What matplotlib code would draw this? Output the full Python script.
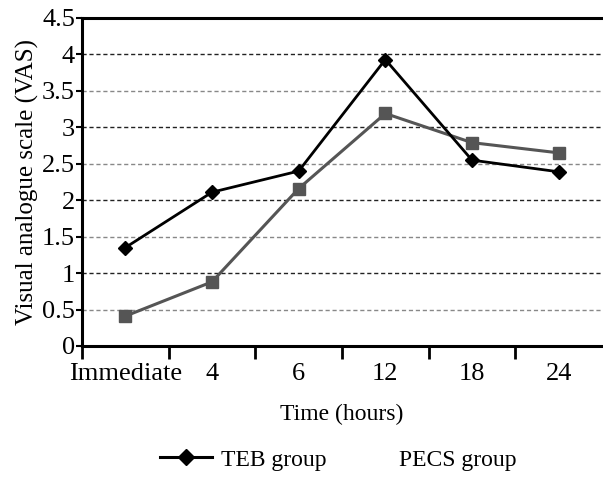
import matplotlib
matplotlib.use("Agg")
import matplotlib.pyplot as plt
from matplotlib.lines import Line2D

plt.rcParams['font.family'] = ['Liberation Serif', 'DejaVu Serif']

categories = ["Immediate", "4", "6", "12", "18", "24"]
teb = [1.35, 2.11, 2.40, 3.93, 2.55, 2.39]
pecs = [0.41, 0.88, 2.16, 3.19, 2.79, 2.65]
yticks = [0, 0.5, 1, 1.5, 2, 2.5, 3, 3.5, 4, 4.5]
ytick_labels = ["0", "0.5", "1", "1.5", "2", "2.5", "3", "3.5", "4", "4.5"]

fig = plt.figure(figsize=(6.03, 4.83), dpi=100)
ax = fig.add_axes([82/603, 1-346/483, (602-82)/603, (346-18)/483])

x = list(range(len(categories)))

# grid lines
for v in yticks[1:-1]:
    col = '#222222' if float(v).is_integer() else '#888888'
    ax.axhline(v, color=col, lw=1.0, ls=(0, (3, 2)), zorder=1)

ax.plot(x, pecs, color='#555555', lw=2.2, marker='s', ms=8, zorder=3)
ax.plot(x, teb, color='black', lw=2.0, marker='D', ms=7, zorder=4)

ax.set_xlim(-0.5, len(categories) - 0.5)
ax.set_ylim(0, 4.5)
ax.set_yticks(yticks)
ax.set_yticklabels(ytick_labels, fontsize=19)
ax.set_xticks(x)
ax.set_xticklabels(categories, fontsize=19)
ax.tick_params(axis='x', length=0, pad=12)
# minor ticks at category boundaries
ax.set_xticks([i + 0.5 for i in range(-1, len(categories) - 1)], minor=True)
ax.tick_params(axis='x', which='minor', length=9, width=2, direction='out')
ax.tick_params(axis='y', length=4, width=1.5, direction='out', pad=1)

for s in ['left', 'bottom', 'top']:
    ax.spines[s].set_linewidth(2.2)
    ax.spines[s].set_color('black')
ax.spines['right'].set_visible(False)

ax.set_ylabel("Visual analogue scale (VAS)", fontsize=18, labelpad=2)
ax.set_xlabel("Time (hours)", fontsize=17, labelpad=14)

handles = [Line2D([], [], color='black', lw=2.2, marker='D', ms=8),
           Line2D([], [], color='white', lw=2.2, marker='s', ms=8)]
fig.legend(handles, ["TEB group", "PECS group"], loc='center',
           bbox_to_anchor=(338/603, 1-460/483), ncol=2, frameon=False,
           fontsize=17, handlelength=2.2, columnspacing=0.45, handletextpad=0.4)

fig.savefig("out.png", dpi=100)
